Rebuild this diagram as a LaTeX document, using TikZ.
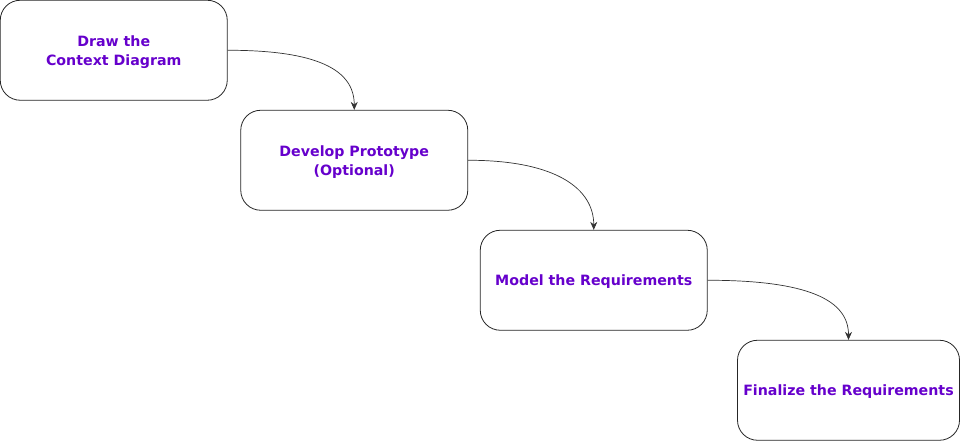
\documentclass[tikz,border=0pt]{standalone}
\usepackage{fontspec}
\setmainfont{DejaVu Sans}
\usetikzlibrary{arrows.meta}
\definecolor{txt}{HTML}{6600CC}
\begin{document}
\begin{tikzpicture}[x=1pt,y=-1pt,
  stepbox/.style={draw=black!85, line width=0.8pt, rounded corners=20pt, fill=white,
    minimum width=227pt, minimum height=100pt, inner sep=0pt, align=center,
    font=\bfseries\fontsize{14.2}{19}\selectfont, text=txt},
  conn/.style={draw=black!80, line width=0.7pt, -{Stealth[length=8pt,width=7pt]}}]
\useasboundingbox (0,0) rectangle (961,442);
\node[stepbox] (a) at (113.75,50.25) {};
\node[text=txt, font=\bfseries\fontsize{14.2}{19}\selectfont, align=center] (ta) at (113.75,52) {Draw the\\Context Diagram};
\node[stepbox] (b) at (354.25,160.25) {};
\node[text=txt, font=\bfseries\fontsize{14.2}{19}\selectfont, align=center] (tb) at (354.25,162) {Develop Prototype\\(Optional)};
\node[stepbox] (c) at (593.75,280.25) {};
\node[text=txt, font=\bfseries\fontsize{14.2}{19}\selectfont, align=center] (tc) at (593.75,282) {Model the Requirements};
\node[stepbox, minimum width=222pt] (d) at (848.5,390.25) {};
\node[text=txt, font=\bfseries\fontsize{14.2}{19}\selectfont, align=center] (td) at (848.5,392) {Finalize the Requirements};
\draw[conn] (a.east) .. controls +(90,0) and +(0,-40) .. (b.north);
\draw[conn] (b.east) .. controls +(90,0) and +(0,-40) .. (c.north);
\draw[conn] (c.east) .. controls +(100,0) and +(0,-40) .. (d.north);
\end{tikzpicture}
\end{document}
